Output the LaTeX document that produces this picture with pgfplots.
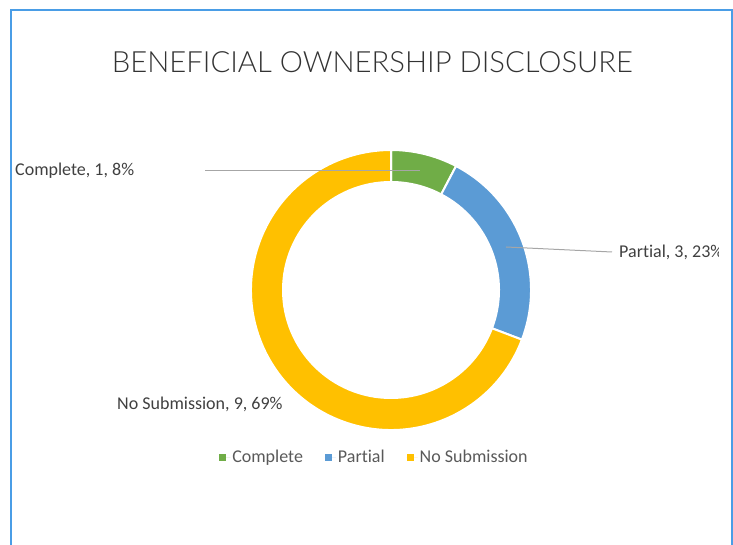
\documentclass[border=0pt]{standalone}
\usepackage{pgfplots}
\pgfplotsset{compat=1.18}
\usepackage{pgfplotstable}
\usepackage{fontspec}
\setmainfont{Carlito}[Ligatures=NoCommon]
\newfontfamily\titlefont{Lato Light}

\definecolor{cComplete}{HTML}{70AD47}
\definecolor{cPartial}{HTML}{5B9BD5}
\definecolor{cNoSub}{HTML}{FFC000}
\definecolor{frameblue}{HTML}{4A9DE6}
\definecolor{labeltext}{HTML}{404040}
\definecolor{legendtext}{HTML}{595959}
\definecolor{leader}{HTML}{A6A6A6}

% counts per disclosure status
\pgfplotstableread{
status value
Complete 1
Partial 3
NoSubmission 9
}\donutdata

\pgfplotstablegetelem{0}{value}\of\donutdata \let\vComplete\pgfplotsretval
\pgfplotstablegetelem{1}{value}\of\donutdata \let\vPartial\pgfplotsretval
\pgfplotstablegetelem{2}{value}\of\donutdata \let\vNoSub\pgfplotsretval
\pgfmathsetmacro\vTotal{\vComplete+\vPartial+\vNoSub}
% clockwise from 12 o'clock
\pgfmathsetmacro\aA{90}
\pgfmathsetmacro\aB{\aA-360*\vComplete/\vTotal}
\pgfmathsetmacro\aC{\aB-360*\vPartial/\vTotal}
\pgfmathsetmacro\aD{\aC-360*\vNoSub/\vTotal}

\def\cx{391}\def\cy{254}
\def\Ro{140}\def\Ri{108}

\newcommand\ringsector[3]{%
  \fill[#1, draw=white, line width=2pt]
    ([shift={(#2:\Ro pt)}]axis cs:\cx,\cy) arc[start angle=#2, end angle=#3, radius=\Ro pt]
    -- ([shift={(#3:\Ri pt)}]axis cs:\cx,\cy) arc[start angle=#3, end angle=#2, radius=\Ri pt]
    -- cycle;}

\begin{document}
\begin{tikzpicture}
\begin{axis}[
  hide axis,
  scale only axis,
  x=1pt, y=1pt,
  xmin=0, xmax=733, ymin=0, ymax=544,
  legend columns=3,
  legend style={at={(axis cs:374.5,87)}, anchor=center, draw=none, fill=none,
    font=\fontsize{18}{21}\selectfont, text=legendtext,
    /tikz/every even column/.append style={column sep=20pt}},
  legend image code/.code={\fill[#1] (0pt,-3.5pt) rectangle (7pt,3.5pt);
    \path (0pt,0pt) -- (11pt,0pt);},
]
\addlegendimage{fill=cComplete, draw=none}
\addlegendentry{Complete}
\addlegendimage{fill=cPartial, draw=none}
\addlegendentry{Partial}
\addlegendimage{fill=cNoSub, draw=none}
\addlegendentry{No Submission}

\ringsector{cComplete}{\aA}{\aB}
\ringsector{cPartial}{\aB}{\aC}
\ringsector{cNoSub}{\aC}{\aD}

% leader lines
\draw[leader, line width=1pt] (axis cs:205,373.3) -- (axis cs:420,373.3);
\draw[leader, line width=1pt] (axis cs:506,297) -- (axis cs:612,292);

% data labels
\node[anchor=west, inner sep=0pt, text=labeltext, font=\fontsize{18}{21}\selectfont]
  at (axis cs:15,373) {Complete, 1, 8\%};
\begin{scope}
  \clip (axis cs:600,250) rectangle (axis cs:718,330);
  \node[anchor=west, inner sep=0pt, text=labeltext, font=\fontsize{18}{21}\selectfont]
    at (axis cs:619,292) {Partial, 3, 23\%};
\end{scope}
\node[anchor=west, inner sep=0pt, text=labeltext, font=\fontsize{18}{21}\selectfont]
  at (axis cs:117,140) {No Submission, 9, 69\%};

% title
\node[text=black!80, inner sep=0pt] at (axis cs:372.5,482)
  {\resizebox{521pt}{!}{\titlefont BENEFICIAL OWNERSHIP DISCLOSURE}};

% chart frame
\draw[frameblue, line width=2pt] (axis cs:10.5,-2) -- (axis cs:10.5,533.5)
  -- (axis cs:731.5,533.5) -- (axis cs:731.5,-2);
\end{axis}
\pgfresetboundingbox
\useasboundingbox (0,0) rectangle (733pt,544pt);
\end{tikzpicture}
\end{document}
